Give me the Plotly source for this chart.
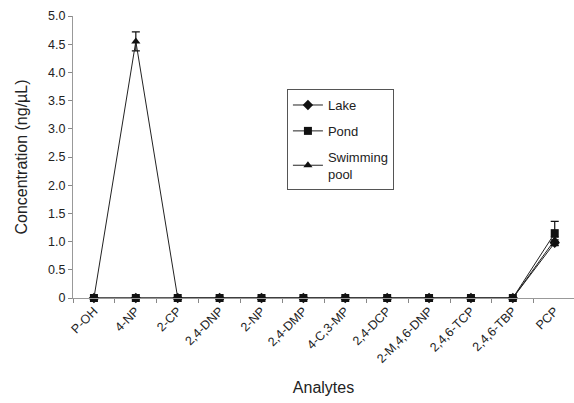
import plotly.graph_objects as go

analytes = ["P-OH", "4-NP", "2-CP", "2,4-DNP", "2-NP", "2,4-DMP", "4-C,3-MP",
            "2,4-DCP", "2-M,4,6-DNP", "2,4,6-TCP", "2,4,6-TBP", "PCP"]
lake = [0, 0, 0, 0, 0, 0, 0, 0, 0, 0, 0, 0.98]
lake_err = [0, 0, 0, 0, 0, 0, 0, 0, 0, 0, 0, 0.05]
pond = [0, 0, 0, 0, 0, 0, 0, 0, 0, 0, 0, 1.15]
pond_err = [0, 0, 0, 0, 0, 0, 0, 0, 0, 0, 0, 0.21]
pool = [0, 4.55, 0, 0, 0, 0, 0, 0, 0, 0, 0, 1.03]
pool_err = [0, 0.17, 0, 0, 0, 0, 0, 0, 0, 0, 0, 0.05]

ytick_vals = [0, 0.5, 1.0, 1.5, 2.0, 2.5, 3.0, 3.5, 4.0, 4.5, 5.0]
ytick_text = ["0", "0.5", "1.0", "1.5", "2.0", "2.5", "3.0", "3.5", "4.0", "4.5", "5.0"]

fig = go.Figure()
series = [
    ("Lake", lake, lake_err, "diamond", 8, "g1", 1),
    ("Swimming<br>pool", pool, pool_err, "triangle-up", 8, "g3", 3),
    ("Pond", pond, pond_err, "square", 8, "g2", 2),
]
for name, vals, err, sym, size, grp, rank in series:
    fig.add_trace(go.Scatter(
        x=analytes, y=vals, name=name, mode="lines+markers",
        legendgroup=grp, legendrank=rank, cliponaxis=False,
        line=dict(color="#222222", width=1),
        marker=dict(symbol=sym, size=size, color="#111111"),
        error_y=dict(type="data", array=err, color="#111111", thickness=1.2, width=4),
    ))

fig.update_layout(
    width=574, height=403,
    margin=dict(l=73, r=0, t=16, b=105),
    paper_bgcolor="white", plot_bgcolor="white",
    font=dict(family="Liberation Sans, Arial, sans-serif", color="#222222"),
    legend=dict(
        x=0.427, y=0.741, xanchor="left", yanchor="top",
        bordercolor="#555555", borderwidth=1, bgcolor="white",
        font=dict(size=13, color="#222222"),
        traceorder="grouped", tracegroupgap=6,
    ),
    xaxis=dict(
        type="category", categoryorder="array", categoryarray=analytes,
        range=[-0.5, 11.46],
        tickson="boundaries", ticks="outside", ticklen=4, tickcolor="#888888",
        showline=True, linecolor="#999999", linewidth=1,
        showgrid=False, zeroline=False,
        tickangle=-45, tickfont=dict(size=12.5, color="#222222"),
        title=dict(text="Analytes", font=dict(size=16, color="#222222"), standoff=16),
    ),
    yaxis=dict(
        range=[0, 5.0], tickvals=ytick_vals, ticktext=ytick_text,
        ticks="outside", ticklen=4, tickcolor="#888888",
        showline=True, linecolor="#999999", linewidth=1,
        showgrid=False, zeroline=False,
        tickfont=dict(size=12.5, color="#222222"),
        title=dict(text="Concentration (ng/µL)", font=dict(size=16, color="#222222"), standoff=16),
    ),
)

fig.write_html("out.html")
